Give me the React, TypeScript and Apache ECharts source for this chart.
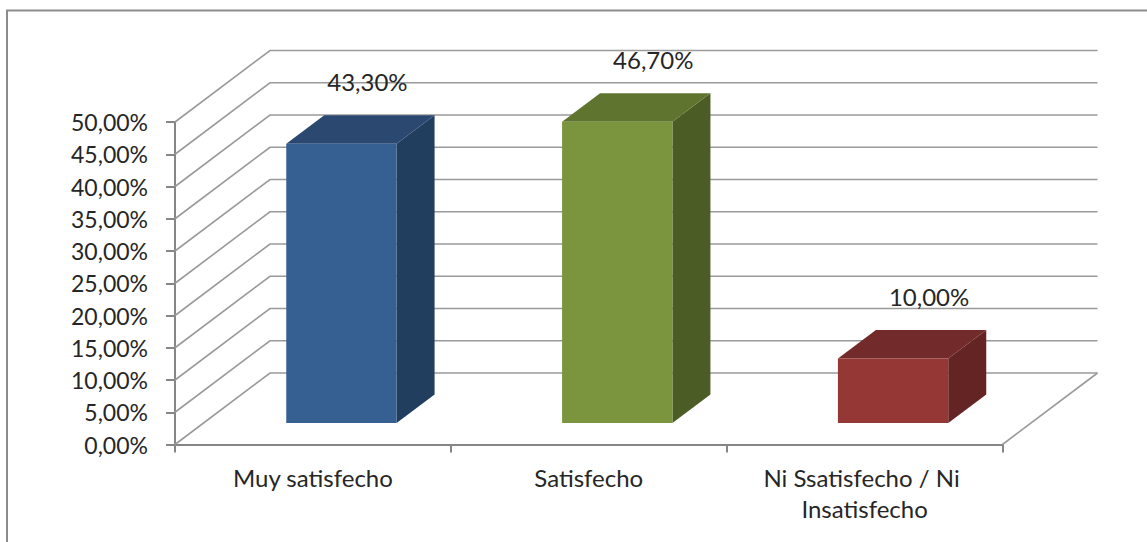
import React, { useEffect, useRef } from "react";
import * as echarts from "echarts";

const categories = ["Muy satisfecho", "Satisfecho", "Ni Ssatisfecho / Ni Insatisfecho"];
const values = [43.3, 46.7, 10.0];
const valueLabels = ["43,30%", "46,70%", "10,00%"];
const gridValues = [0, 5, 10, 15, 20, 25, 30, 35, 40, 45, 50];

const frontColors = ["#376092", "#7A953D", "#953735"];
const topColors = ["#2B4870", "#5F752F", "#722B2A"];
const sideColors = ["#213E5F", "#4B5D25", "#632423"];
const labelNudge = [26, 36, 36];

const DEPTH_X = 95;
const DEPTH_Y = 71.5;
const FONT = "Lato, Carlito, 'Open Sans', sans-serif";
const TEXT = "#262626";

export default function App() {
  const ref = useRef<HTMLDivElement>(null);
  useEffect(() => {
    const chart = echarts.init(ref.current!, null, { renderer: "svg" });
    chart.setOption({
      animation: false,
      backgroundColor: "#ffffff",
      graphic: [
        {
          type: "polyline",
          silent: true,
          shape: { points: [[7, 542], [7, 10.5], [1147, 10.5]] },
          style: { stroke: "#8C8C8C", lineWidth: 2, fill: "none" },
        },
      ],
      grid: { left: 175, right: 144.5, top: 122, bottom: 97.5, containLabel: false },
      xAxis: {
        type: "category",
        data: categories,
        axisLine: { lineStyle: { color: "#868686", width: 2 } },
        axisTick: { show: true, length: 8, lineStyle: { color: "#868686", width: 2 } },
        axisLabel: {
          interval: 0,
          fontFamily: FONT,
          fontSize: 24,
          color: TEXT,
          margin: 17,
          lineHeight: 31.5,
          width: 225,
          overflow: "break",
        },
      },
      yAxis: {
        type: "value",
        min: 0,
        max: 50,
        interval: 5,
        splitLine: { show: false },
        axisLine: { show: true, lineStyle: { color: "#868686", width: 2 } },
        axisTick: { show: true, length: 9, lineStyle: { color: "#868686", width: 2 } },
        axisLabel: {
          fontFamily: FONT,
          fontSize: 23,
          color: TEXT,
          margin: 27,
          formatter: (v: number) => v.toFixed(2).replace(".", ",") + "%",
        },
      },
      series: [
        {
          type: "custom",
          clip: false,
          silent: true,
          z: 1,
          data: gridValues.map((v) => [0, v]),
          renderItem: (params: any, api: any) => {
            const v = api.value(1);
            const y = api.coord([0, v])[1];
            const left = params.coordSys.x;
            const right = left + params.coordSys.width;
            const children: any[] = [
              {
                type: "polyline",
                shape: { points: [[left, y], [left + DEPTH_X, y - DEPTH_Y], [right + DEPTH_X, y - DEPTH_Y]] },
                style: { stroke: "#9A9A9A", lineWidth: 1.6, fill: "none" },
              },
            ];
            if (v === 0) {
              children.push({
                type: "line",
                shape: { x1: right, y1: y, x2: right + DEPTH_X, y2: y - DEPTH_Y },
                style: { stroke: "#9A9A9A", lineWidth: 1.6 },
              });
            }
            return { type: "group", children };
          },
        },
        {
          type: "custom",
          clip: false,
          silent: true,
          z: 3,
          data: values.map((v, i) => [i, v]),
          renderItem: (params: any, api: any) => {
            const i = api.value(0);
            const [cx, topY] = api.coord([i, api.value(1)]);
            const [, zeroY] = api.coord([i, 0]);
            const bandW = api.size([1, 0])[0];
            const barW = bandW * 0.4;
            const x0 = cx - barW / 2 + DEPTH_X * 0.3;
            const x1 = x0 + barW;
            const yT = topY - DEPTH_Y * 0.3;
            const yB = zeroY - DEPTH_Y * 0.3;
            const dx = DEPTH_X * 0.4;
            const dy = DEPTH_Y * 0.4;
            return {
              type: "group",
              children: [
                {
                  type: "polygon",
                  shape: { points: [[x1, yT], [x1 + dx, yT - dy], [x1 + dx, yB - dy], [x1, yB]] },
                  style: { fill: sideColors[i] },
                },
                {
                  type: "polygon",
                  shape: { points: [[x0, yT], [x0 + dx, yT - dy], [x1 + dx, yT - dy], [x1, yT]] },
                  style: { fill: topColors[i] },
                },
                {
                  type: "rect",
                  shape: { x: x0, y: yT, width: barW, height: yB - yT },
                  style: { fill: frontColors[i] },
                },
                {
                  type: "text",
                  style: {
                    text: valueLabels[i],
                    x: (x0 + x1) / 2 + labelNudge[i],
                    y: yT - 62.5,
                    align: "center",
                    verticalAlign: "middle",
                    fontFamily: FONT,
                    fontSize: 24,
                    fill: TEXT,
                  },
                },
              ],
            };
          },
        },
      ],
    });
    return () => chart.dispose();
  }, []);
  return <div ref={ref} style={{ position: "fixed", left: 0, top: 0, width: 1147, height: 542 }} />;
}
